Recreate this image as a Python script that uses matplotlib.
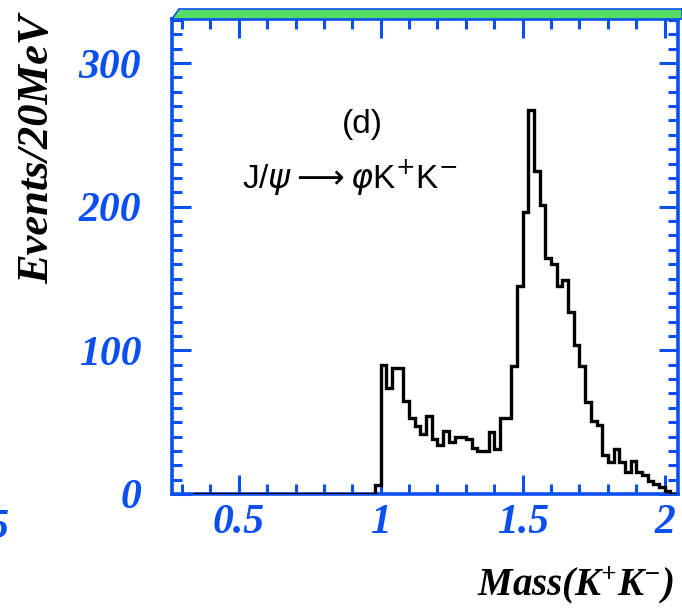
import numpy as np
import matplotlib.pyplot as plt
from matplotlib.patches import Polygon
from matplotlib.ticker import MultipleLocator

plt.rcParams['font.family'] = 'Liberation Serif'
plt.rcParams['mathtext.fontset'] = 'custom'
plt.rcParams['mathtext.rm'] = 'Liberation Serif:bold:italic'
plt.rcParams['mathtext.it'] = 'Liberation Serif:bold:italic'
plt.rcParams['mathtext.bf'] = 'Liberation Serif:bold:italic'

BLUE = '#0a50f0'
SERIF_BI = dict(family='Liberation Serif', weight='bold', style='italic')
SANS = dict(family='Liberation Sans', weight='normal', style='normal')

# K+K- invariant mass, 20 MeV bins starting at 0.34 GeV
bin_width = 0.02
first_edge = 0.34
counts = [0] * 32 + [
    6, 90, 74, 88, 88, 65, 53, 47, 42, 54,
    38, 34, 44, 36, 40, 40, 38, 32, 30, 30,
    43, 31, 53, 53, 89, 145, 196, 267, 225, 201,
    164, 160, 145, 149, 127, 104, 89, 64, 51, 48,
    27, 22, 31, 22, 15, 23, 15, 13, 9, 7,
    5, 2, 0,
]
edges = first_edge + bin_width * np.arange(len(counts) + 1)

x_major = [0.5, 1, 1.5, 2]
x_labels = ['0.5', '1', '1.5', '2']
y_major = [0, 100, 200, 300]
y_labels = ['0', '100', '200', '300']


def px(x, y, w=682, h=608):
    return x / w, 1 - y / h


def main():
    fig = plt.figure(figsize=(6.82, 6.08), dpi=100)
    l, b = px(172, 494)
    r, t = px(678, 18.5)
    ax = fig.add_axes([l, b, r - l, t - b])

    ax.stairs(counts, edges, color='black', linewidth=2.4, zorder=3)

    ax.set_xlim(0.265, 2.047)
    ax.set_ylim(0, 331)
    ax.set_xticks(x_major)
    ax.set_xticklabels(x_labels, fontsize=30, **SERIF_BI)
    ax.set_yticks(y_major)
    ax.set_yticklabels(y_labels, fontsize=30, **SERIF_BI)
    ax.xaxis.set_minor_locator(MultipleLocator(0.1))
    ax.yaxis.set_minor_locator(MultipleLocator(10))

    for sp in ax.spines.values():
        sp.set_color(BLUE)
        sp.set_linewidth(2.6)
    ax.tick_params(which='both', direction='in', top=True, right=True,
                   color=BLUE, width=2.2, labelcolor=BLUE)
    ax.tick_params(which='major', length=14)
    ax.tick_params(which='minor', length=7)
    ax.tick_params(axis='y', pad=22)
    ax.tick_params(axis='x', pad=7)

    # bevelled strip above the frame
    strip = Polygon([px(172, 19), px(179, 9), px(682, 9), px(682, 19)],
                    closed=True, transform=fig.transFigure,
                    facecolor='#55dd66', edgecolor=BLUE, linewidth=1.2)
    fig.patches.append(strip)

    fig.text(*px(37, 149), 'Events/20MeV', rotation=90, ha='center',
             va='center', fontsize=32, color='black', **SERIF_BI)
    fig.text(*px(674, 585), r'Mass(K$^{+}$K$^{-}$)', ha='right',
             va='center', fontsize=28, color='black', **SERIF_BI)
    # piece of the neighbouring panel's tick label
    fig.text(*px(9, 528), '1.5', ha='right', va='center', fontsize=30,
             color=BLUE, **SERIF_BI)

    fig.text(*px(362, 124), '(d)', fontsize=24, ha='center', va='center',
             color='black', **SANS)
    fig.text(*px(350, 178), r'J/$\psi\longrightarrow\varphi$K$^{+}$K$^{-}$',
             math_fontfamily='dejavusans', fontsize=24,
             ha='center', va='center', color='black', **SANS)

    fig.savefig('out.png', dpi=100)


if __name__ == '__main__':
    main()
